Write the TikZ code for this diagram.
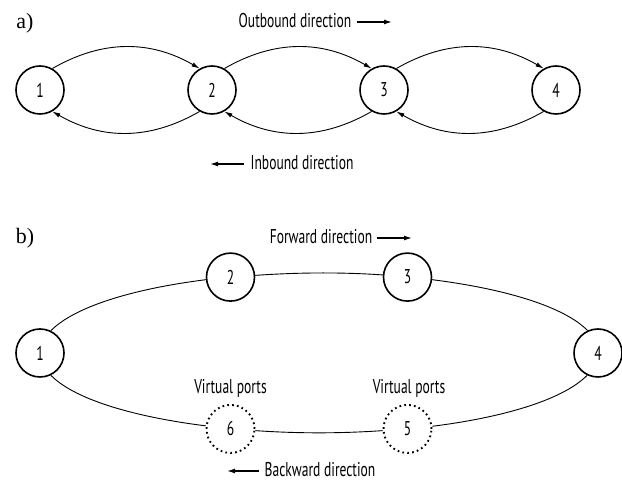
\documentclass[tikz,border=0pt]{standalone}
\usepackage{fontspec}
\newfontfamily\lblfont[FakeStretch=0.68]{PT Sans}
\newfontfamily\panelfont{Liberation Serif}
\usetikzlibrary{arrows.meta}
\begin{document}
\begin{tikzpicture}[x=1bp,y=1bp,
  lbl/.style={font=\lblfont\fontsize{20}{24}\selectfont, inner sep=0pt},
  port/.style={circle, draw, line width=1.6bp, minimum size=48bp, inner sep=0pt,
               font=\lblfont\fontsize{20}{24}\selectfont},
  vport/.style={port, line width=1.9bp, dash pattern=on 1.7bp off 3.2bp},
  panel/.style={font=\panelfont\fontsize{22}{26}\selectfont, inner sep=0pt},
  link/.style={line width=0.9bp},
  hop/.style={link, -{Latex[length=8bp,width=4.5bp]}},
  dirarrow/.style={line width=1.3bp, -{Latex[length=8bp,width=5bp]}}]
\useasboundingbox (0,0) rectangle (622,482);

% ---- a) linear chain with outbound and inbound hops ----
\node[panel] (pa) at (25,459) {a)};
\node[port] (a1) at (40,392)  {1};
\node[port] (a2) at (212,392) {2};
\node[port] (a3) at (384,392) {3};
\node[port] (a4) at (556,392) {4};

\draw[hop] (a1.60)  to[bend left=30] (a2.120);
\draw[hop] (a2.60)  to[bend left=30] (a3.120);
\draw[hop] (a3.60)  to[bend left=30] (a4.120);
\draw[hop] (a2.240) to[bend left=30] (a1.300);
\draw[hop] (a3.240) to[bend left=30] (a2.300);
\draw[hop] (a4.240) to[bend left=30] (a3.300);

\node[lbl] (outb) at (295,461) {Outbound direction};
\coordinate (outtip) at (392,460);
\draw[dirarrow] ([xshift=5bp,yshift=-1bp]outb.east) -- (outtip);

\node[lbl] (inb) at (302,319) {Inbound direction};
\coordinate (intip) at (210,318);
\draw[dirarrow] ([xshift=-6bp,yshift=-1bp]inb.west) -- (intip);

% ---- b) ring with two virtual ports ----
\node[panel] (pb) at (25,244) {b)};
\node[port]  (b1) at (40,129)      {1};
\node[port]  (b2) at (230.5,204.9) {2};
\node[port]  (b3) at (407.5,204.9) {3};
\node[port]  (b4) at (598,129)     {4};
\node[vport] (b5) at (407.5,53.1)  {5};
\node[vport] (b6) at (230.5,53.1)  {6};

% elliptical ring, one segment per neighbouring pair
\draw[link] (b1.64.4) .. controls +(45.6:32.2) and +(187.2:76.8) .. (b2.186.5);
\draw[link] (b2.4.6) .. controls +(3.9:42.9) and +(176.1:42.9) .. (b3.175.4);
\draw[link] (b3.-6.5) .. controls +(-7.2:76.8) and +(134.4:32.2) .. (b4.115.6);
\draw[link] (b4.244.4) .. controls +(225.6:32.2) and +(7.2:76.8) .. (b5.6.5);
\draw[link] (b5.184.6) .. controls +(183.9:42.9) and +(-3.9:42.9) .. (b6.-4.6);
\draw[link] (b6.173.5) .. controls +(172.8:76.8) and +(-45.6:32.2) .. (b1.-64.4);

\node[lbl] (vp6) at (230.5,94) {Virtual ports};
\node[lbl] (vp5) at (409,94)   {Virtual ports};

\node[lbl] (fwd) at (321,245) {Forward direction};
\coordinate (fwdtip) at (412,244);
\draw[dirarrow] ([xshift=5bp,yshift=-1bp]fwd.east) -- (fwdtip);

\node[lbl] (bwd) at (320,12) {Backward direction};
\coordinate (bwdtip) at (227,11);
\draw[dirarrow] ([xshift=-5bp,yshift=-1bp]bwd.west) -- (bwdtip);
\end{tikzpicture}
\end{document}
